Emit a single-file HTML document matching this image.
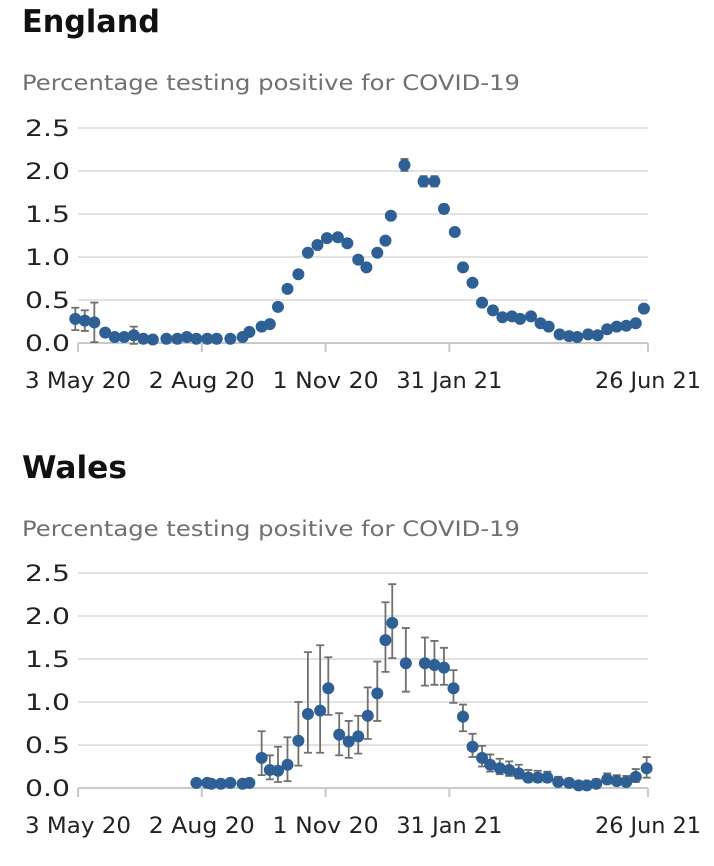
<!DOCTYPE html>
<html><head><meta charset="utf-8">
<style>
body{margin:0;background:#fff;width:714px;height:866px;overflow:hidden;font-family:"DejaVu Sans","Liberation Sans",sans-serif}
svg{position:absolute;left:0;top:0}
</style></head>
<body>
<svg id="c" width="714" height="866" font-family="DejaVu Sans, Liberation Sans, sans-serif">
<text x="22" y="32" font-size="31" font-weight="bold" fill="#111" textLength="138" lengthAdjust="spacingAndGlyphs">England</text>
<text x="22" y="90" font-size="21" fill="#707070" textLength="498" lengthAdjust="spacingAndGlyphs">Percentage testing positive for COVID-19</text>
<text x="22" y="478" font-size="31" font-weight="bold" fill="#111" textLength="105" lengthAdjust="spacingAndGlyphs">Wales</text>
<text x="22" y="536" font-size="21" fill="#707070" textLength="498" lengthAdjust="spacingAndGlyphs">Percentage testing positive for COVID-19</text>
</svg>
<script>
const yTicks=[0,0.5,1,1.5,2,2.5];
const yTickLabels=["0.0","0.5","1.0","1.5","2.0","2.5"];
const xTickDays=[0,91,182,273,419];
const xTickLabels=["3 May 20","2 Aug 20","1 Nov 20","31 Jan 21","26 Jun 21"];
const engDays=[-2,5,12,20,27,34,41,48,55,65,73,80,87,95,102,112,121,126,135,141,147,154,162,169,176,183,191,198,206,212,220,226,230,240,254,262,269,277,283,290,297,305,312,319,325,333,340,346,354,361,367,375,382,389,396,403,410,416];
const engVals=[0.28,0.26,0.24,0.12,0.07,0.07,0.09,0.05,0.04,0.05,0.05,0.07,0.05,0.05,0.05,0.05,0.07,0.13,0.19,0.22,0.42,0.63,0.80,1.05,1.14,1.22,1.23,1.16,0.97,0.88,1.05,1.19,1.48,2.07,1.88,1.88,1.56,1.29,0.88,0.70,0.47,0.38,0.30,0.31,0.28,0.31,0.23,0.19,0.10,0.08,0.07,0.10,0.09,0.16,0.19,0.20,0.23,0.40];
const engErr=[0.13,0.12,0.23,0.03,0.03,0.03,0.10,0.03,0.02,0.02,0.02,0.02,0.02,0.02,0.02,0.02,0.02,0.02,0.02,0.02,0.03,0.03,0.03,0.03,0.03,0.03,0.03,0.03,0.03,0.03,0.03,0.03,0.04,0.07,0.06,0.06,0.05,0.04,0.03,0.03,0.03,0.03,0.02,0.02,0.02,0.02,0.02,0.02,0.02,0.02,0.02,0.02,0.02,0.02,0.02,0.02,0.02,0.03];
const walDays=[87,95,98,105,112,121,126,135,141,147,154,162,169,178,184,192,199,206,213,220,226,231,241,255,262,269,276,283,290,297,303,310,317,324,331,338,345,353,361,368,374,381,389,396,403,410,418];
const walVals=[0.06,0.06,0.05,0.05,0.06,0.05,0.06,0.35,0.21,0.20,0.27,0.55,0.86,0.90,1.16,0.62,0.54,0.60,0.84,1.10,1.72,1.92,1.45,1.45,1.43,1.40,1.16,0.83,0.48,0.35,0.27,0.23,0.21,0.17,0.12,0.12,0.12,0.07,0.06,0.03,0.03,0.05,0.10,0.08,0.07,0.13,0.23];
const walLo=[0.05,0.05,0.04,0.04,0.05,0.04,0.05,0.15,0.10,0.07,0.08,0.26,0.41,0.41,0.85,0.38,0.35,0.40,0.57,0.78,1.35,1.51,1.12,1.19,1.20,1.20,0.99,0.66,0.36,0.25,0.19,0.16,0.14,0.11,0.07,0.07,0.07,0.03,0.02,0.01,0.01,0.02,0.05,0.04,0.03,0.07,0.12];
const walHi=[0.07,0.07,0.06,0.06,0.07,0.06,0.07,0.66,0.38,0.48,0.59,1.00,1.58,1.66,1.52,0.87,0.78,0.84,1.17,1.47,2.16,2.37,1.86,1.75,1.71,1.63,1.37,0.97,0.63,0.49,0.39,0.34,0.31,0.27,0.21,0.20,0.19,0.13,0.11,0.07,0.07,0.10,0.17,0.15,0.14,0.22,0.36];
const NS='http://www.w3.org/2000/svg';
const svg=document.getElementById('c');
const xs=d=>78+d*570/419;
function mk(tag,attrs){const e=document.createElementNS(NS,tag);for(const k in attrs)e.setAttribute(k,attrs[k]);svg.appendChild(e);return e;}
function panel(y0,name,days,vals,lo,hi){
  const ys=v=>y0-v*86;
  yTicks.forEach((t,i)=>{
    if(t>0){const g=mk('line',{x1:78,x2:648,y1:ys(t),y2:ys(t),stroke:'#e2e2e2','stroke-width':2});
    
    }
    const l=mk('text',{x:70,y:ys(t)+8,'text-anchor':'end','font-size':22,fill:'#222',textLength:45,lengthAdjust:'spacingAndGlyphs'});
    l.textContent=yTickLabels[i];
    
    
  });
  const ax=mk('line',{x1:78,x2:648,y1:y0,y2:y0,stroke:'#c8c8c8','stroke-width':2});
  
  
  xTickDays.forEach((d,i)=>{
    const tk=mk('line',{x1:xs(d),x2:xs(d),y1:y0,y2:y0+9,stroke:'#c8c8c8','stroke-width':2});
    
    
    const l=mk('text',{x:xs(d),y:y0+45,'text-anchor':'middle','font-size':22,fill:'#222',textLength:106,lengthAdjust:'spacingAndGlyphs'});
    l.textContent=xTickLabels[i];
    
    
  });
  days.forEach((d,i)=>{
    const x=xs(d),a=ys(lo[i]),b=ys(hi[i]);
    if(a-b>6){
      const e=mk('path',{d:`M${x},${a}V${b}M${x-4},${a}h8M${x-4},${b}h8`,stroke:'#707070','stroke-width':1.8,fill:'none'});
      
      
    }
  });
  days.forEach((d,i)=>{
    const c=mk('circle',{cx:xs(d),cy:ys(vals[i]),r:6,fill:'#2e5f95'});
    
    
  });
}
panel(343,'england',engDays,engVals,engVals.map((v,i)=>v-engErr[i]),engVals.map((v,i)=>v+engErr[i]));
panel(788,'wales',walDays,walVals,walLo,walHi);
</script>
</body></html>
